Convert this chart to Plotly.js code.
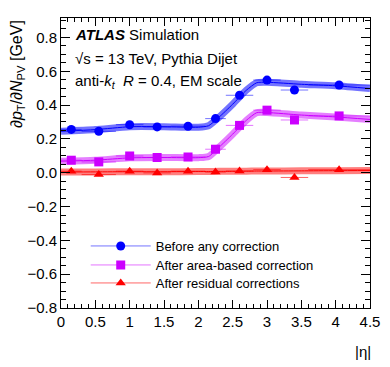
<!DOCTYPE html>
<html>
<head>
<meta charset="utf-8">
<script src="https://cdn.plot.ly/plotly-3.0.1.min.js"></script>
<style>
  html, body { margin: 0; padding: 0; background: #fff; }
  #chart { width: 390px; height: 367px; }
</style>
</head>
<body>
<div id="chart"></div>
<script>
    // |eta| bins (centres and half widths)
    var etaCenters = [0.15, 0.55, 1.0, 1.4, 1.85, 2.25, 2.6, 3.0, 3.4, 4.05];
    var etaHalfWidths = [0.15, 0.25, 0.2, 0.2, 0.25, 0.15, 0.2, 0.2, 0.2, 0.45];

    // measured dpT/dNPV points [GeV]
    var beforeCorr = [0.256, 0.245, 0.284, 0.271, 0.275, 0.320, 0.458, 0.548, 0.489, 0.519];
    var afterArea = [0.074, 0.064, 0.099, 0.090, 0.093, 0.139, 0.280, 0.370, 0.312, 0.336];
    var afterResidual = [0.009, -0.011, 0.009, -0.001, 0.009, 0.004, 0.010, 0.018, -0.028, 0.018];

    // smoothed fit bands
    var fitEta = [0, 0.5, 1.0, 1.5, 2.0, 2.15, 2.3, 2.5, 2.7, 2.85, 3.0, 3.5, 4.0, 4.5];
    var fitBefore = [0.245, 0.255, 0.272, 0.272, 0.269, 0.278, 0.328, 0.405, 0.488, 0.532, 0.535, 0.523, 0.514, 0.498];
    var fitArea = [0.068, 0.074, 0.088, 0.090, 0.089, 0.096, 0.150, 0.228, 0.310, 0.355, 0.356, 0.341, 0.330, 0.315];
    var fitResidual = [0.004, 0.005, 0.006, 0.006, 0.007, 0.007, 0.008, 0.008, 0.009, 0.010, 0.010, 0.011, 0.012, 0.013];

    var seriesNames = ['Before any correction', 'After area-based correction', 'After residual corrections'];
    var colors = ['#0000ff', '#cc00ff', '#ff0000'];
    var bandColors = ['rgba(0,0,255,0.55)', 'rgba(204,0,255,0.5)', 'rgba(255,0,0,0.5)'];
    var lightColors = ['rgba(0,0,255,0.55)', 'rgba(204,0,255,0.55)', 'rgba(255,0,0,0.6)'];
    var symbols = ['circle', 'square', 'triangle-up'];
    var points = [beforeCorr, afterArea, afterResidual];
    var fits = [fitBefore, fitArea, fitResidual];
    var legendIds = ['legend', 'legend2', 'legend3'];

    var traces = [];
    // bands first so points sit on top
    fits.forEach(function(f, i) {
        traces.push({
            x: fitEta, y: f, type: 'scatter', mode: 'lines',
            line: { color: bandColors[i], width: 7, shape: 'spline', smoothing: 0.6 },
            showlegend: false, hoverinfo: 'skip'
        });
        traces.push({
            x: fitEta, y: f, type: 'scatter', mode: 'lines',
            line: { color: colors[i], width: 1, shape: 'spline', smoothing: 0.6 },
            showlegend: false, hoverinfo: 'skip'
        });
    });
    points.forEach(function(p, i) {
        traces.push({
            x: etaCenters, y: p, type: 'scatter', mode: 'markers',
            marker: { symbol: symbols[i], size: 9, color: colors[i] },
            error_x: { type: 'data', array: etaHalfWidths, visible: true, thickness: 1, width: 0, color: lightColors[i] },
            showlegend: false
        });
    });
    // legend entries (line + marker like the original), one legend per row
    points.forEach(function(p, i) {
        traces.push({
            x: [null], y: [null], type: 'scatter', mode: 'lines+markers',
            name: seriesNames[i], legend: legendIds[i],
            line: { color: lightColors[i], width: 1 },
            marker: { symbol: symbols[i], size: 9, color: colors[i] }
        });
    });

    var font = 'Liberation Sans, Arial, Helvetica, sans-serif';

    function legendAt(rowY) {
        return {
            x: 0.08, y: (308 - rowY) / 290, xanchor: 'left', yanchor: 'middle',
            bgcolor: 'rgba(0,0,0,0)', font: { size: 13 }, itemwidth: 60
        };
    }

    var layout = {
        width: 390, height: 367,
        margin: { t: 18, r: 20, b: 59, l: 61 },
        paper_bgcolor: '#fff', plot_bgcolor: '#fff',
        font: { family: font, size: 15, color: '#000' },
        showlegend: true,
        legend: legendAt(246),
        legend2: legendAt(265),
        legend3: legendAt(283),
        xaxis: {
            range: [0, 4.5], dtick: 0.5, tick0: 0,
            showline: true, linecolor: '#000', linewidth: 1, mirror: 'allticks',
            ticks: 'inside', ticklen: 8, tickcolor: '#000',
            minor: { dtick: 0.1, ticks: 'inside', ticklen: 4, tickcolor: '#000' },
            showgrid: false, zeroline: false,
            tickfont: { size: 15 }
        },
        yaxis: {
            range: [-0.8, 0.915], dtick: 0.2, tick0: -0.8,
            showline: true, linecolor: '#000', linewidth: 1, mirror: 'allticks',
            ticks: 'inside', ticklen: 9, tickcolor: '#000',
            minor: { dtick: 0.05, ticks: 'inside', ticklen: 5, tickcolor: '#000' },
            showgrid: false, zeroline: false,
            tickfont: { size: 15 }, tickformat: '.1f'
        },
        annotations: [
            {
                xref: 'paper', yref: 'paper', x: 0.04, y: (308 - 34) / 290,
                xanchor: 'left', yanchor: 'middle', showarrow: false,
                text: '<b><i>ATLAS</i></b> Simulation', font: { size: 15 }
            },
            {
                xref: 'paper', yref: 'paper', x: 0.04, y: (308 - 58) / 290,
                xanchor: 'left', yanchor: 'middle', showarrow: false,
                text: '√s = 13 TeV, Pythia Dijet', font: { size: 15 }
            },
            {
                xref: 'paper', yref: 'paper', x: 0.04, y: (308 - 81) / 290,
                xanchor: 'left', yanchor: 'middle', showarrow: false,
                text: 'anti-<i>k</i><sub><i>t</i></sub>  <i>R</i> = 0.4, EM scale', font: { size: 15 }
            },
            {
                xref: 'paper', yref: 'paper', x: (17 - 61) / 309, y: (308 - 74) / 290,
                xanchor: 'center', yanchor: 'middle', showarrow: false, textangle: -90,
                text: '∂<i>p</i><sub>T</sub>/∂<i>N</i><sub>PV</sub> [GeV]', font: { size: 16 }
            },
            {
                xref: 'paper', yref: 'paper', x: (363 - 61) / 309, y: (308 - 351) / 290,
                xanchor: 'center', yanchor: 'middle', showarrow: false,
                text: '|η|', font: { size: 15 }
            }
        ]
    };

    Plotly.newPlot('chart', traces, layout, { displayModeBar: false, staticPlot: true });
</script>
</body>
</html>
